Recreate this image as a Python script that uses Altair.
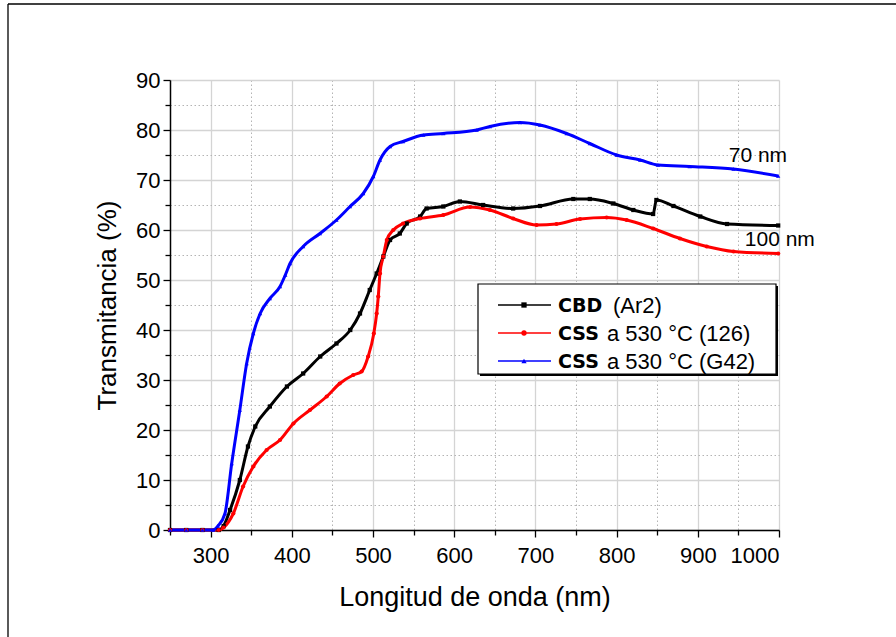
import altair as alt
import pandas as pd

# ---------------- data ----------------
cbd_nm = [250, 270, 290, 310, 316, 324, 336, 346, 355, 373, 394, 414, 435, 455, 472, 484,
          496, 504.5, 512.7, 521, 533, 541.5, 558, 566, 586.6, 607, 635.6, 672.6, 705.7,
          746.7, 767, 796, 820.6, 845, 849, 870, 903, 936, 999]
cbd_t = [0, 0, 0, 0, 0.8, 4, 10, 16.7, 20.7, 24.7, 28.7, 31.3, 34.7, 37.3, 40, 43.3,
         48, 51.3, 54.7, 58, 59.3, 61.3, 62.7, 64.3, 64.7, 65.7, 65, 64.3, 64.8,
         66.2, 66.2, 65.3, 64, 63.2, 66, 64.8, 62.7, 61.2, 60.9]

css126_nm = [250, 270, 290, 310, 316, 328, 340, 352.6, 369, 385.5, 402, 422.4, 443, 459, 475.7,
             486, 494, 501, 504.5, 506.5, 508.6, 512.7, 517, 525, 537, 558, 586.6, 619.5,
             644, 672.6, 701.4, 726, 755, 787.7, 812.4, 845, 878, 911, 944, 999]
css126_t = [0, 0, 0, 0, 0.5, 3.3, 8.7, 12.7, 16, 18, 21.3, 24, 26.7, 29.3, 31,
            31.7, 34.7, 39.3, 43.3, 46.7, 51.3, 54.7, 58, 60, 61.3, 62.3, 63, 64.6,
            64, 62.3, 61, 61.2, 62.2, 62.5, 62, 60.3, 58.3, 56.7, 55.7, 55.3]

g42_nm = [250, 270, 290, 303, 309, 317.7, 326, 336, 344.4, 352.6, 361, 373, 385.5, 392, 397.8, 414,
          434.7, 455, 471.7, 488, 500.4, 508.6, 521, 537, 562, 586.6, 627.7, 644, 681,
          705.7, 738.5, 767, 800, 829, 851, 890, 944, 999]
g42_t = [0, 0, 0, 0, 0.8, 3.3, 13.3, 24, 33.3, 39.3, 43.3, 46.3, 48.7, 51, 53.3, 56.7,
         59.3, 62, 64.7, 67.3, 70.7, 74, 76.7, 77.7, 79, 79.3, 80, 80.7, 81.5,
         81, 79.3, 77.3, 75, 74, 73, 72.7, 72.2, 70.8]

series_names = ["CBD (Ar2)", "CSS a 530 °C (126)", "CSS a 530 °C (G42)"]
series_colors = ["#000000", "#ff0000", "#0000ff"]
series_shapes = ["square", "circle", "triangle-up"]

x_major = [300, 400, 500, 600, 700, 800, 900, 1000]
x_minor = [250, 350, 450, 550, 650, 750, 850, 950]
y_major = [0, 10, 20, 30, 40, 50, 60, 70, 80, 90]
y_minor = [5, 15, 25, 35, 45, 55, 65, 75, 85]

note_text = ["70 nm", "100 nm"]
note_nm = [974, 1001]
note_t = [74.8, 58.0]

legend_bold = ["CBD", "CSS", "CSS"]
legend_rest = ["(Ar2)", "a 530 °C (126)", "a 530 °C (G42)"]

# ---------------- build table ----------------
frames = []
for name, xs, ys in zip(series_names, [cbd_nm, css126_nm, g42_nm], [cbd_t, css126_t, g42_t]):
    frames.append(pd.DataFrame({"nm": xs, "T": ys, "serie": name}))
df = pd.concat(frames, ignore_index=True)

W, H = 609, 450
FONT = "Liberation Sans"

xscale = alt.Scale(domain=[250, 1000], nice=False, zero=False)
yscale = alt.Scale(domain=[0, 90], nice=False)
color = alt.Color("serie:N", scale=alt.Scale(domain=series_names, range=series_colors), legend=None)
shape = alt.Shape("serie:N", scale=alt.Scale(domain=series_names, range=series_shapes), legend=None)

# minor grid / ticks layer (invisible marks, only axes)
minor = alt.Chart(df).mark_line(opacity=0).encode(
    x=alt.X("nm:Q", scale=xscale,
            axis=alt.Axis(values=x_minor, orient="bottom", labels=False, title=None, domain=False,
                          grid=True, gridColor="#b4b4b4", gridDash=[1.5, 2.5], gridWidth=1,
                          tickSize=5, tickColor="black", tickWidth=1.3)),
    y=alt.Y("T:Q", scale=yscale,
            axis=alt.Axis(values=y_minor, orient="left", labels=False, title=None, domain=False,
                          grid=True, gridColor="#b4b4b4", gridDash=[1.5, 2.5], gridWidth=1,
                          tickSize=5, tickColor="black", tickWidth=1.3)),
    detail="serie:N",
)

lines = alt.Chart(df).mark_line(strokeWidth=3, interpolate="monotone").encode(
    x=alt.X("nm:Q", scale=xscale,
            axis=alt.Axis(values=x_major, orient="bottom", title="Longitud de onda (nm)", format="d",
                          grid=True, gridColor="#d4d4d4", gridWidth=1.3,
                          tickSize=7, tickColor="black", tickWidth=1.3,
                          domainColor="black", domainWidth=1.5,
                          labelFont=FONT, labelFontSize=22, labelColor="black", labelPadding=8,
                          titleFont=FONT, titleFontSize=27, titleFontWeight="normal",
                          titleColor="black", titlePadding=18)),
    y=alt.Y("T:Q", scale=yscale,
            axis=alt.Axis(values=y_major, orient="left", title="Transmitancia (%)", format="d",
                          grid=True, gridColor="#d4d4d4", gridWidth=1.3,
                          tickSize=7, tickColor="black", tickWidth=1.3,
                          domainColor="black", domainWidth=1.5,
                          labelFont=FONT, labelFontSize=22, labelColor="black", labelPadding=3,
                          titleFont=FONT, titleFontSize=26, titleFontWeight="normal",
                          titleColor="black", titlePadding=15)),
    color=color,
    detail="serie:N",
)

points = alt.Chart(df).mark_point(filled=True, size=18, opacity=1).encode(
    x=alt.X("nm:Q", scale=xscale, axis=None),
    y=alt.Y("T:Q", scale=yscale, axis=None),
    color=color,
    shape=shape,
)

notes = alt.Chart(pd.DataFrame({"txt": note_text, "nm": note_nm, "T": note_t})).mark_text(
    font=FONT, fontSize=21, color="black", align="center", baseline="middle"
).encode(x=alt.X("nm:Q", scale=xscale, axis=None), y=alt.Y("T:Q", scale=yscale, axis=None),
         text="txt:N")

# ---------------- custom legend ----------------
one = pd.DataFrame({"a": [0]})
leg_layers = []
leg_layers.append(alt.Chart(one).mark_rect(fill="black").encode(
    x=alt.value(310), x2=alt.value(608), y=alt.value(206), y2=alt.value(296)))
leg_layers.append(alt.Chart(one).mark_rect(fill="white", stroke="black", strokeWidth=1.2).encode(
    x=alt.value(308), x2=alt.value(606), y=alt.value(204), y2=alt.value(294)))
row_y = [225, 253, 281]
for i in range(3):
    yy = row_y[i]
    leg_layers.append(alt.Chart(one).mark_rule(color=series_colors[i], strokeWidth=1.3).encode(
        x=alt.value(328), x2=alt.value(381), y=alt.value(yy)))
    leg_layers.append(alt.Chart(one).mark_point(filled=True, size=28, color=series_colors[i],
                                                shape=series_shapes[i], opacity=1).encode(
        x=alt.value(354), y=alt.value(yy)))
    leg_layers.append(alt.Chart(one).mark_text(
        text=legend_bold[i], font="DejaVu Sans", fontWeight="bold", fontSize=19,
        align="left", baseline="middle", color="black").encode(
        x=alt.value(388), y=alt.value(yy + 1)))
    leg_layers.append(alt.Chart(one).mark_text(
        text=legend_rest[i], font=FONT, fontSize=22,
        align="left", baseline="middle", color="black").encode(
        x=alt.value(443 if i == 0 else 437), y=alt.value(yy + 1)))

# outer frame lines
frame_top = alt.Chart(one).mark_rule(color="black", strokeWidth=1.3).encode(
    x=alt.value(-162), x2=alt.value(726), y=alt.value(-76))
frame_left = alt.Chart(one).mark_rule(color="black", strokeWidth=1.3).encode(
    x=alt.value(-162), y=alt.value(-76), y2=alt.value(557))

chart = alt.layer(minor, lines, points, notes, *leg_layers, frame_top, frame_left).resolve_axis(
    x="independent", y="independent"
).properties(
    width=W, height=H,
    autosize=alt.AutoSizeParams(type="none"),
    padding={"left": 170, "top": 80, "right": 117, "bottom": 107},
    background="white",
).configure_view(stroke=None)

chart.save("out.html", embed_options={"renderer": "svg", "actions": False})
